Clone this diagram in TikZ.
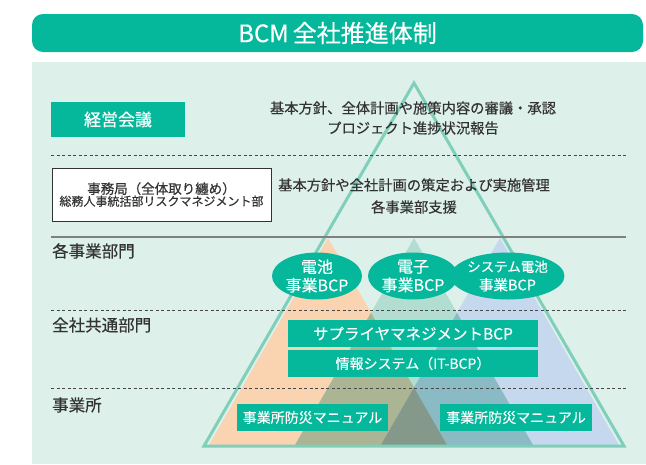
\documentclass[tikz,border=0pt]{standalone}
\usepackage{fontspec}
\setmainfont{Noto Sans CJK JP}[FakeBold=0.4]
\usetikzlibrary{shapes.geometric}
\definecolor{teal0}{HTML}{05B79B}
\definecolor{panel}{HTML}{DEF0EA}
\definecolor{txtgray}{HTML}{333333}
\definecolor{tri}{HTML}{7FCFBA}
\definecolor{orng}{HTML}{FAD3B0}
\definecolor{grn}{HTML}{B2DED2}
\definecolor{blu}{HTML}{C5D8EE}
\definecolor{og}{HTML}{ABB493}
\definecolor{gb}{HTML}{8ABAC4}
\definecolor{ogb}{HTML}{84998A}
\begin{document}
\begin{tikzpicture}[x=1pt,y=-1pt,
  txt/.style={text=txtgray, inner sep=0pt, align=center, font=\fontsize{14.3}{20}\selectfont},
  lbl/.style={text=txtgray, inner sep=0pt, anchor=west, font=\fontsize{16.5}{18}\selectfont},
  tealbox/.style={fill=teal0, text=white, inner sep=0pt, font=\fontsize{14}{18}\selectfont},
  bcp/.style={ellipse, fill=teal0, text=white, inner sep=0pt, minimum width=90pt, minimum height=47pt, align=center, font=\fontsize{16}{18.5}\selectfont},
  sep/.style={draw=txtgray!90, line width=0.8pt, dash pattern=on 3pt off 2.5pt}]
\useasboundingbox (0,0) rectangle (646,464);
\fill[white] (0,0) rectangle (646,464);
% title
\node[fill=teal0, rounded corners=11pt, minimum width=611pt, minimum height=38pt, inner sep=0pt, text=white, font=\fontsize{24}{28}\selectfont] (title) at (337.5,33) {BCM\,全社推進体制};
% panel
\fill[panel] (32,62) rectangle (646,464);
% coloured triangles
\coordinate (oa) at (328,238); \coordinate (ol) at (209,445); \coordinate (or) at (447,445);
\coordinate (ga) at (414,238); \coordinate (gl) at (295,445); \coordinate (gr) at (533,445);
\coordinate (ba) at (500,238); \coordinate (bl) at (381,445); \coordinate (br) at (619,445);
\fill[orng] (oa) -- (ol) -- (or) -- cycle;
\fill[grn] (ga) -- (gl) -- (gr) -- cycle;
\fill[blu] (ba) -- (bl) -- (br) -- cycle;
\begin{scope}
  \clip (oa) -- (ol) -- (or) -- cycle;
  \fill[og] (ga) -- (gl) -- (gr) -- cycle;
\end{scope}
\begin{scope}
  \clip (ga) -- (gl) -- (gr) -- cycle;
  \fill[gb] (ba) -- (bl) -- (br) -- cycle;
\end{scope}
\begin{scope}
  \clip (oa) -- (ol) -- (or) -- cycle;
  \clip (ga) -- (gl) -- (gr) -- cycle;
  \fill[ogb] (ba) -- (bl) -- (br) -- cycle;
\end{scope}
% big triangle
\coordinate (ta) at (414,83); \coordinate (tl) at (204,446); \coordinate (tr) at (624,446);
\draw[tri, line width=3pt, line join=miter] (ta) -- (tl) -- (tr) -- cycle;
% separators
\coordinate (d1l) at (51,155); \coordinate (d1r) at (626,155);
\coordinate (d2l) at (51,310); \coordinate (d2r) at (626,310);
\coordinate (d3l) at (51,388); \coordinate (d3r) at (626,388);
\coordinate (sl) at (51,237); \coordinate (sr) at (626,237);
\draw[sep] (d1l) -- (d1r);
\draw[sep] (d2l) -- (d2r);
\draw[sep] (d3l) -- (d3r);
\draw[draw=gray, line width=2.5pt] (sl) -- (sr);
% top rows
\node[tealbox, minimum width=134pt, minimum height=35pt, font=\fontsize{17}{20}\selectfont] (keiei) at (118,119.5) {経営会議};
\node[txt] (t1) at (413,118) {基本方針、全体計画や施策内容の審議・承認\\プロジェクト進捗状況報告};
\node[draw=txtgray, line width=1pt, fill=white, minimum width=219pt, minimum height=53pt, inner sep=0pt, align=center, text=txtgray] (jimu) at (161.5,194.5)
  {{\fontsize{13.5}{20}\selectfont 事務局（全体取り纏め）}\\{\fontsize{12}{16}\selectfont 総務人事統括部リスクマネジメント部}};
\node[txt, font=\fontsize{14.3}{22}\selectfont] (t2) at (414,196) {基本方針や全社計画の策定および実施管理\\各事業部支援};
% labels
\node[lbl] (l1) at (52,251) {各事業部門};
\node[lbl] (l2) at (52,325) {全社共通部門};
\node[lbl] (l3) at (52,405) {事業所};
% BCP ellipses
\node[bcp] (e1) at (317,276) {電池\\事業BCP};
\node[bcp] (e2) at (413,276) {電子\\事業BCP};
\node[bcp, font=\fontsize{13.5}{18.5}\selectfont] (e3) at (507.5,276) {システム電池\\{\fontsize{14.5}{18.5}\selectfont 事業BCP}};
% common boxes
\node[tealbox, minimum width=250pt, minimum height=27pt, font=\fontsize{15.5}{18}\selectfont] (sup) at (413,333.5) {サプライヤマネジメントBCP};
\node[tealbox, minimum width=250pt, minimum height=27pt] (it) at (413,363.5) {情報システム（IT-BCP）};
\node[tealbox, minimum width=151pt, minimum height=27pt] (m1) at (312.5,417.5) {事業所防災マニュアル};
\node[tealbox, minimum width=152pt, minimum height=27pt] (m2) at (516,417.5) {事業所防災マニュアル};
\end{tikzpicture}
\end{document}
